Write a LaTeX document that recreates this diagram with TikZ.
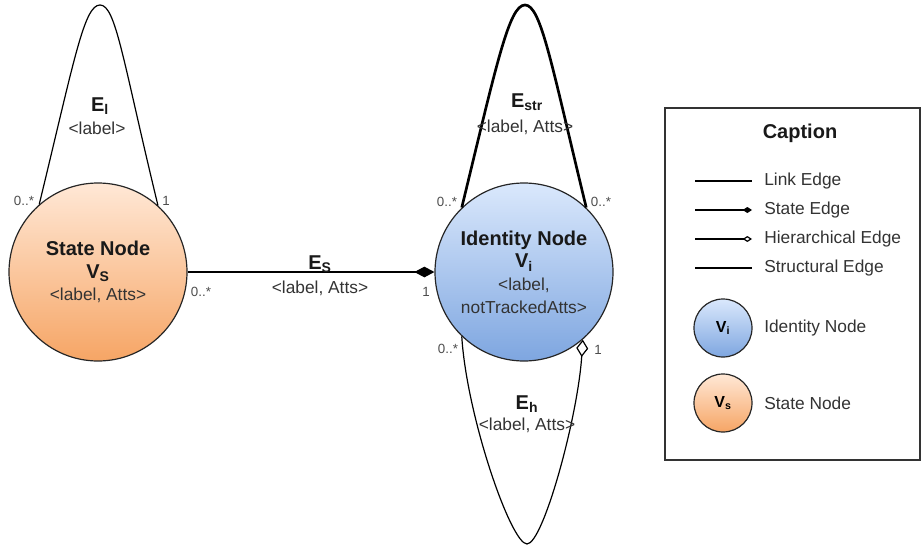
\documentclass[tikz,border=0pt]{standalone}
\usepackage{fontspec}
\setmainfont{Liberation Sans}
\usetikzlibrary{positioning,arrows.meta}
\definecolor{stateTop}{HTML}{FFE8D6}
\definecolor{stateBot}{HTML}{F6A565}
\definecolor{identTop}{HTML}{DAE8FC}
\definecolor{identBot}{HTML}{7EA6E0}
\definecolor{attGray}{HTML}{333333}
\definecolor{cardGray}{HTML}{4D4D4D}
\newcommand{\nodeTitle}{\fontsize{15}{17}\selectfont\bfseries}
\newcommand{\attText}{\fontsize{13}{17}\selectfont}
\tikzset{
  bigNode/.style={circle,draw=black!85,line width=0.9pt,minimum size=133.5pt,inner sep=0pt,align=center,text=black!90,font=\attText},
  stateFill/.style={top color=stateTop,bottom color=stateBot},
  identFill/.style={top color=identTop,bottom color=identBot},
  edgeName/.style={font=\fontsize{15}{17}\selectfont\bfseries,text=black!90,inner sep=0pt},
  edgeAtts/.style={font=\attText,text=attGray,inner sep=0pt},
  cardLabel/.style={font=\fontsize{10}{12}\selectfont,text=cardGray,inner sep=0pt},
  legendText/.style={font=\attText,text=attGray,anchor=west,inner sep=0pt},
  smallNode/.style={circle,draw=black!85,line width=0.9pt,minimum size=43.5pt,inner sep=0pt,font=\fontsize{12}{14}\selectfont\bfseries},
  linkEdge/.style={line width=0.9pt},
  strucEdge/.style={line width=2pt}
}

\begin{document}
\begin{tikzpicture}[x=0.75pt,y=-0.75pt]
\useasboundingbox (0,0) rectangle (922,546);
%the two main nodes
\node[bigNode,stateFill] (stateNode) at (98,272) {{\nodeTitle State Node}\\{\nodeTitle V\textsubscript{S}}\\{\color{attGray}<label, Atts>}};
\node[bigNode,identFill] (identNode) at (524,272) {{\nodeTitle Identity Node}\\{\nodeTitle V\textsubscript{i}}\\{\color{attGray}<label,}\\{\color{attGray}notTrackedAtts>}};

%link edge loop on the state node
\coordinate (linkTop) at (100,5);
\draw[linkEdge] (stateNode.131) .. controls +(35,-144) and +(-16,0) .. (linkTop) .. controls +(16,0) and +(-35,-144) .. (stateNode.48);
\node[edgeName] (linkName) at (100,106) {E\textsubscript{l}};
\node[edgeAtts] (linkAtts) at (97,128) {<label>};
\node[cardLabel] (linkCardL) at (24,201) {0..*};
\node[cardLabel] (linkCardR) at (166,201) {1};

%structural edge loop on the identity node
\coordinate (strucTop) at (525,5);
\draw[strucEdge] (identNode.134) .. controls +(35,-144) and +(-16,0) .. (strucTop) .. controls +(16,0) and +(-35,-144) .. (identNode.46);
\node[edgeName] (strucName) at (527,102) {E\textsubscript{str}};
\node[edgeAtts] (strucAtts) at (525,127) {<label, Atts>};
\node[cardLabel] (strucCardL) at (447,202) {0..*};
\node[cardLabel] (strucCardR) at (601,202) {0..*};

%hierarchical edge loop under the identity node
\coordinate (hierBot) at (527,544);
\draw[linkEdge,{Diamond[open,length=13pt,width=9pt]}-] (identNode.311) .. controls +(-5,78) and +(16,0) .. (hierBot) .. controls +(-16,0) and +(5,80) .. (identNode.226);
\node[edgeName] (hierName) at (527,404) {E\textsubscript{h}};
\node[edgeAtts] (hierAtts) at (527,425) {<label, Atts>};
\node[cardLabel] (hierCardL) at (448,349) {0..*};
\node[cardLabel] (hierCardR) at (598,350) {1};

%state edge between the nodes
\draw[linkEdge,-{Diamond[length=15pt,width=8pt]}] (stateNode) -- (identNode);
\node[edgeName] (stName) at (320,264) {E\textsubscript{S}};
\node[edgeAtts] (stAtts) at (320,288) {<label, Atts>};
\node[cardLabel] (stCardL) at (201,292) {0..*};
\node[cardLabel] (stCardR) at (426,292) {1};

%caption box
\node[draw=black!80,line width=0.8pt,minimum width=191.25pt,minimum height=264pt,inner sep=0pt] (capBox) at (792.5,284) {};
\node[font=\nodeTitle,text=black!90] (capTitle) at (800,133) {Caption};

\coordinate (legLinkA) at (695,181);
\coordinate (legLinkB) at (752,181);
\draw[linkEdge] (legLinkA) -- (legLinkB);
\node[legendText] (legLinkTxt) at (764,181) {Link Edge};

\coordinate (legStateA) at (695,210);
\coordinate (legStateB) at (752,210);
\draw[linkEdge,-{Diamond[length=7pt,width=4.5pt]}] (legStateA) -- (legStateB);
\node[legendText] (legStateTxt) at (764,210) {State Edge};

\coordinate (legHierA) at (695,239);
\coordinate (legHierB) at (752,239);
\draw[linkEdge,-{Diamond[open,length=7pt,width=4.5pt]}] (legHierA) -- (legHierB);
\node[legendText] (legHierTxt) at (764,239) {Hierarchical Edge};

\coordinate (legStrucA) at (695,268);
\coordinate (legStrucB) at (752,268);
\draw[strucEdge] (legStrucA) -- (legStrucB);
\node[legendText] (legStrucTxt) at (764,268) {Structural Edge};

\node[smallNode,identFill] (legIdent) at (723,328) {V\textsubscript{i}};
\node[legendText] (legIdentTxt) at (764,328) {Identity Node};
\node[smallNode,stateFill] (legStNode) at (723,403) {V\textsubscript{s}};
\node[legendText] (legStNodeTxt) at (764,403) {State Node};
\end{tikzpicture}
\end{document}
